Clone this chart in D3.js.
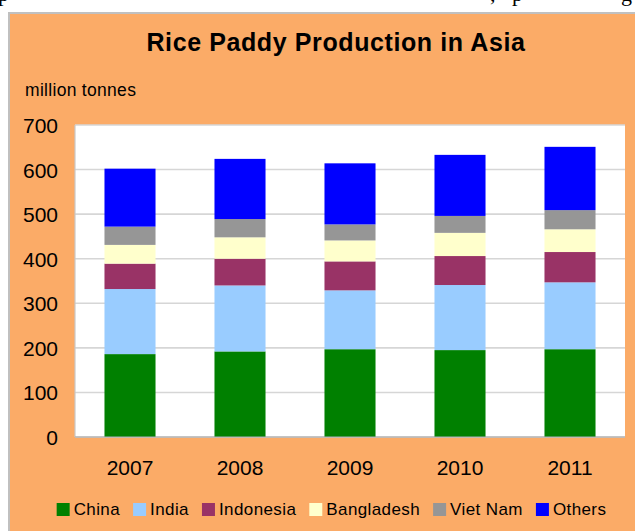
<!DOCTYPE html>
<html>
<head>
<meta charset="utf-8">
<script src="https://cdn.jsdelivr.net/npm/d3@7"></script>
<style>
  html, body { margin: 0; padding: 0; background: #fff; }
  svg { display: block; }
</style>
</head>
<body>
<svg width="635" height="531"></svg>
<script>
const YEARS = ["2007", "2008", "2009", "2010", "2011"];
const CHINA = [186, 192, 197, 195, 197];
const INDIA = [146, 148, 132, 146, 150];
const INDONESIA = [57, 60, 65, 65, 68];
const BANGLADESH = [42, 48, 47, 52, 51];
const VIETNAM = [41, 41, 36, 38, 43];
const OTHERS = [130, 135, 137, 137, 142];
const SERIES = ["China", "India", "Indonesia", "Bangladesh", "Viet Nam", "Others"];
const COLORS = ["#008000", "#99ccff", "#993366", "#ffffcc", "#969696", "#0000ff"];
const Y_TICKS = [0, 100, 200, 300, 400, 500, 600, 700];

const main = function() {
  const svg = d3.select("svg");
  const font = "'Liberation Sans', Arial, sans-serif";

  // clipped line of page text above the chart
  svg.append("g")
    .attr("font-family", "'Liberation Serif', 'Times New Roman', serif")
    .attr("font-size", 22)
    .selectAll("text")
    .data([["p", -2], [",", 490], ["p", 512], ["g", 621]])
    .enter()
    .append("text")
    .attr("x", d => d[0] === "," ? d[1] : d[1])
    .attr("y", 1)
    .text(d => d[0]);

  // orange chart box
  svg.append("rect")
    .attr("x", 9)
    .attr("y", 13)
    .attr("width", 640)
    .attr("height", 530)
    .attr("fill", "#fbab67")
    .attr("stroke", "#c0c0c0")
    .attr("stroke-width", 2);

  const plot = { left: 75, right: 625, top: 125, bottom: 437 };

  const x = d3.scaleBand()
    .domain(YEARS)
    .range([plot.left, plot.right])
    .paddingInner(0.536)
    .paddingOuter(0.268);
  const y = d3.scaleLinear()
    .domain([0, 700])
    .range([plot.bottom, plot.top]);

  svg.append("rect")
    .attr("x", plot.left)
    .attr("y", plot.top)
    .attr("width", plot.right - plot.left)
    .attr("height", plot.bottom - plot.top)
    .attr("fill", "#fff");

  // gridlines
  svg.append("g")
    .selectAll("line")
    .data(Y_TICKS)
    .enter()
    .append("line")
    .attr("x1", plot.left)
    .attr("x2", plot.right)
    .attr("y1", d => y(d))
    .attr("y2", d => y(d))
    .attr("stroke", "#d6d6d6")
    .attr("stroke-width", 1.6);

  svg.append("line")
    .attr("x1", plot.left)
    .attr("x2", plot.left)
    .attr("y1", plot.top)
    .attr("y2", plot.bottom)
    .attr("stroke", "#c8c8c8")
    .attr("stroke-width", 1.2);

  // stacked bars
  const rows = YEARS.map((year, i) => ({
    year: year,
    China: CHINA[i],
    India: INDIA[i],
    Indonesia: INDONESIA[i],
    Bangladesh: BANGLADESH[i],
    "Viet Nam": VIETNAM[i],
    Others: OTHERS[i]
  }));
  const stack = d3.stack().keys(SERIES)(rows);
  const color = d3.scaleOrdinal().domain(SERIES).range(COLORS);

  svg.append("g")
    .selectAll("g")
    .data(stack)
    .enter()
    .append("g")
    .attr("fill", d => color(d.key))
    .selectAll("rect")
    .data(d => d)
    .enter()
    .append("rect")
    .attr("x", d => x(d.data.year))
    .attr("width", x.bandwidth())
    .attr("y", d => y(d[1]))
    .attr("height", d => y(d[0]) - y(d[1]));

  svg.append("line")
    .attr("x1", plot.left)
    .attr("x2", plot.right)
    .attr("y1", plot.bottom)
    .attr("y2", plot.bottom)
    .attr("stroke", "#aaaaaa")
    .attr("stroke-opacity", 0.7)
    .attr("stroke-width", 1.6);

  // y axis labels
  const yAxis = svg.append("g")
    .attr("transform", `translate(${58},0)`)
    .call(d3.axisLeft(y).tickValues(Y_TICKS).tickSize(0).tickPadding(0));
  yAxis.select(".domain").remove();
  yAxis.selectAll("text")
    .attr("font-family", font)
    .attr("font-size", 21)
    .attr("fill", "#000")
    .attr("dy", "0.36em");

  // x axis labels
  const xAxis = svg.append("g")
    .attr("transform", `translate(0,${plot.bottom})`)
    .call(d3.axisBottom(x).tickSize(0).tickPadding(0));
  xAxis.select(".domain").remove();
  xAxis.selectAll("text")
    .attr("font-family", font)
    .attr("font-size", 21)
    .attr("fill", "#000")
    .attr("dy", null)
    .attr("y", 38);

  // titles
  svg.append("text")
    .attr("x", 336)
    .attr("y", 51)
    .attr("text-anchor", "middle")
    .attr("font-family", font)
    .attr("font-weight", "bold")
    .attr("font-size", 25)
    .attr("letter-spacing", 0.6)
    .text("Rice Paddy Production in Asia");

  svg.append("text")
    .attr("x", 25)
    .attr("y", 96)
    .attr("font-family", font)
    .attr("font-size", 17.5)
    .attr("letter-spacing", 0.3)
    .text("million tonnes");

  // legend
  const legend = svg.append("g");
  const items = legend.selectAll("g")
    .data(SERIES)
    .enter()
    .append("g");
  items.append("rect")
    .attr("width", 13)
    .attr("height", 13)
    .attr("y", 503)
    .attr("fill", d => color(d));
  items.append("text")
    .attr("x", 17)
    .attr("y", 515)
    .attr("font-family", font)
    .attr("font-size", 17)
    .attr("letter-spacing", 0.4)
    .text(d => d);

  let pos = 0;
  const offsets = [];
  items.each(function() {
    offsets.push(pos);
    const w = d3.select(this).select("text").node().getComputedTextLength();
    pos += 17 + w + 13;
  });
  const total = pos - 13;
  const start = 331.5 - total / 2;
  items.attr("transform", (d, i) => `translate(${start + offsets[i]},0)`);
};

window.onload = main;
</script>
</body>
</html>
